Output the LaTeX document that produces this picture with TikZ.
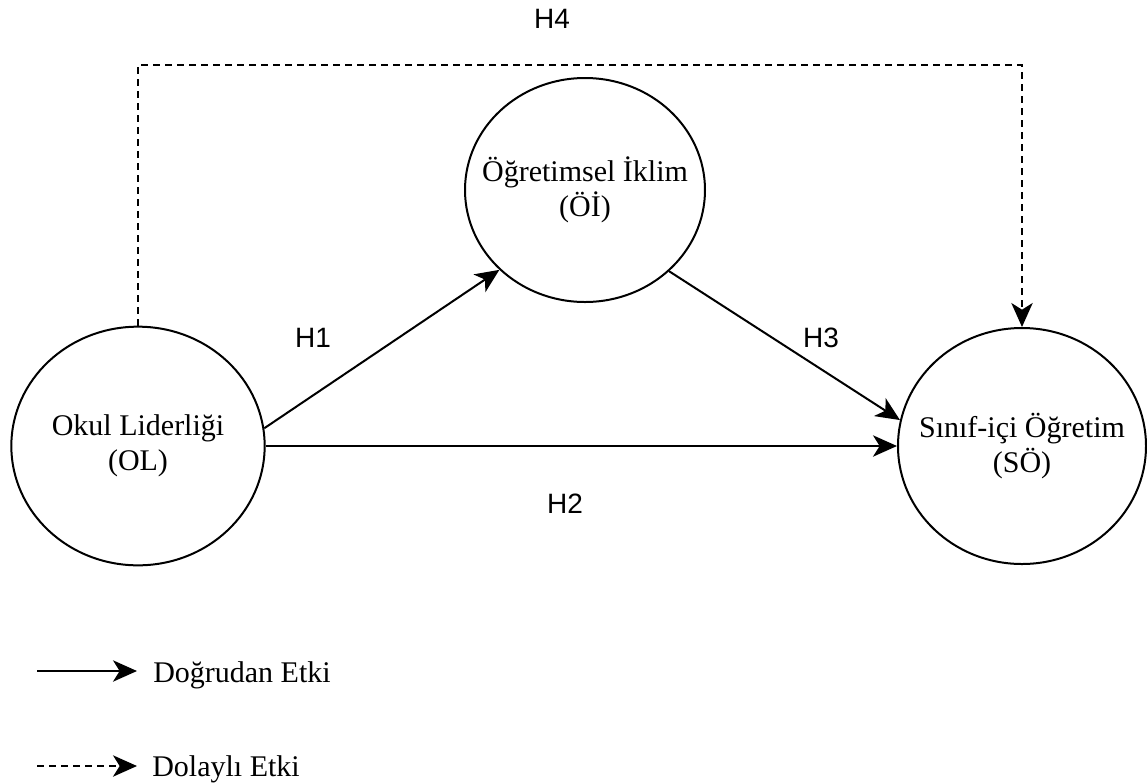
\documentclass[tikz,border=0pt]{standalone}
\usepackage{fontspec}
\setmainfont{Liberation Serif}
\newfontfamily\hfont{Liberation Sans}
\usetikzlibrary{arrows.meta,shapes.geometric}
\tikzset{
  construct/.style={ellipse,draw,line width=1.5pt,inner sep=0pt,outer sep=0.75pt},
  ctext/.style={align=center,inner sep=0pt,font=\fontsize{22.5pt}{26pt}\selectfont},
  conn/.style={line width=1.5pt,-{Stealth[length=18pt,width=16pt,inset=5pt]}},
  indirect/.style={conn,dash pattern=on 5pt off 4pt},
  hlabel/.style={font=\hfont\fontsize{21pt}{24pt}\selectfont,inner sep=0pt},
  legtext/.style={font=\fontsize{22.5pt}{25.5pt}\selectfont,inner sep=0pt,anchor=base west}
}
\begin{document}
\begin{tikzpicture}[x=0.75pt,y=-0.75pt]
\useasboundingbox (0,0) rectangle (1147,783);
\node[construct,minimum width=190pt,minimum height=179pt,
  label={[ctext]center:Okul Liderliği\\(OL)}] (OL) at (138,446) {};
\node[construct,minimum width=180pt,minimum height=168pt,
  label={[ctext]center:Öğretimsel İklim\\(Öİ)}] (OI) at (585,190) {};
\node[construct,minimum width=186pt,minimum height=177pt,
  label={[ctext]center:Sınıf-içi Öğretim\\(SÖ)}] (SO) at (1022,446) {};
\coordinate (top) at (585,65);
\draw[conn] (OL.8) -- (OI.223);
\draw[conn] (OI.316) -- (SO.168);
\draw[conn] (OL.east) -- (SO.west);
\draw[indirect] (OL.north) |- (top) -| (SO.north);
\node[hlabel] (H1) at (313,338) {H1};
\node[hlabel] (H2) at (565,504) {H2};
\node[hlabel] (H3) at (821,338) {H3};
\node[hlabel] (H4) at (552,19) {H4};
\coordinate (l1s) at (37,671);
\coordinate (l1e) at (137,671);
\coordinate (l2s) at (37,766);
\coordinate (l2e) at (137,766);
\draw[conn] (l1s) -- (l1e);
\draw[indirect] (l2s) -- (l2e);
\node[legtext] (t1) at (153,682) {Doğrudan Etki};
\node[legtext] (t2) at (152,776) {Dolaylı Etki};
\end{tikzpicture}
\end{document}
